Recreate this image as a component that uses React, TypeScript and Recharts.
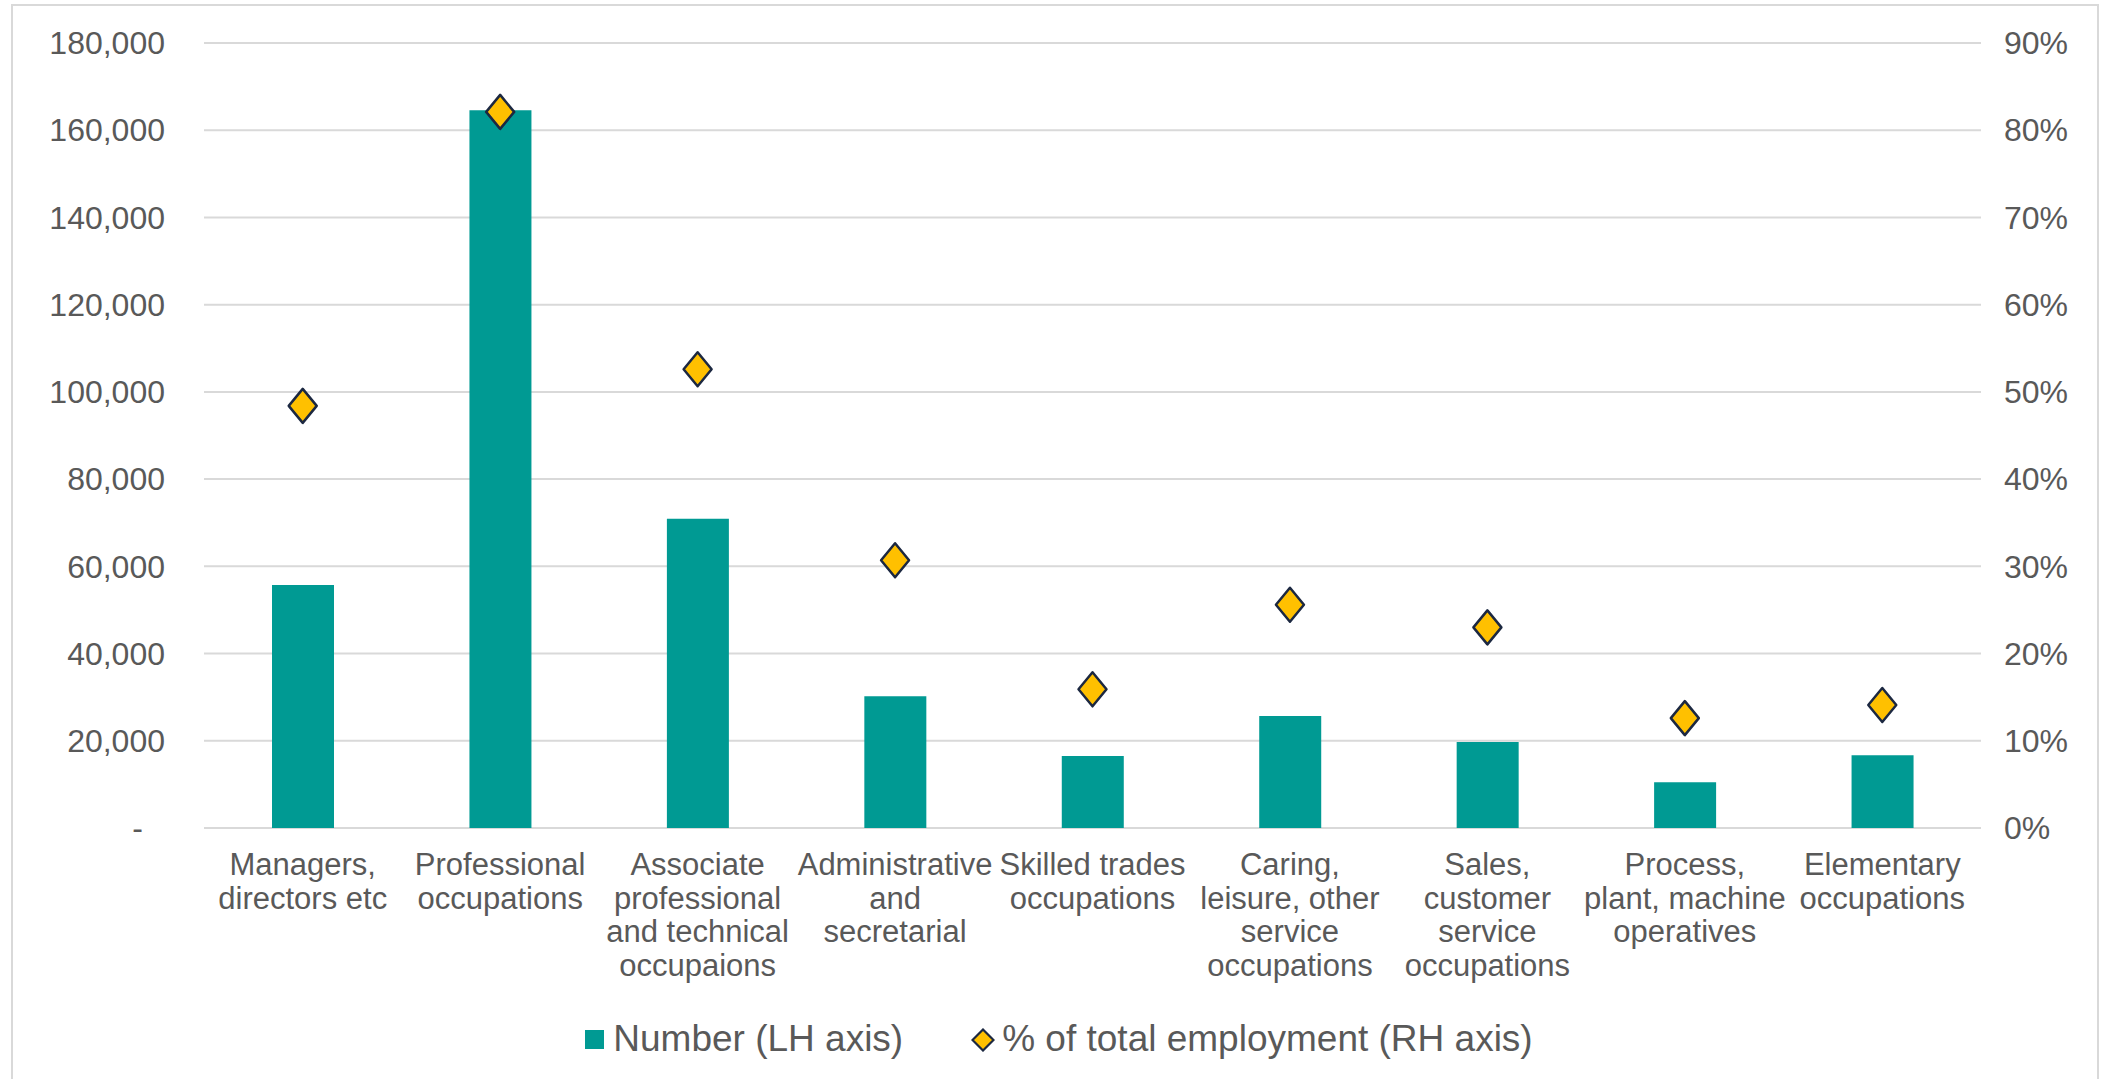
import { Bar, CartesianGrid, ComposedChart, Legend, Scatter, XAxis, YAxis } from 'recharts';

const BAR_COLOR = '#009A93';
const DIAMOND_FILL = '#FFC000';
const DIAMOND_STROKE = '#1C2841';
const GRID_COLOR = '#D9D9D9';
const TEXT_COLOR = '#595959';
const FONT = '"Liberation Sans", Arial, sans-serif';

const categories = [
  'Managers,\ndirectors etc',
  'Professional\noccupations',
  'Associate\nprofessional\nand technical\noccupaions',
  'Administrative\nand\nsecretarial',
  'Skilled trades\noccupations',
  'Caring,\nleisure, other\nservice\noccupations',
  'Sales,\ncustomer\nservice\noccupations',
  'Process,\nplant, machine\noperatives',
  'Elementary\noccupations',
];
const numbers = [55700, 164600, 70900, 30200, 16500, 25700, 19700, 10500, 16700];
const shares = [48.4, 82.1, 52.6, 30.7, 15.9, 25.6, 23.0, 12.6, 14.1];
const leftTicks = [0, 20000, 40000, 60000, 80000, 100000, 120000, 140000, 160000, 180000];
const rightTicks = [0, 10, 20, 30, 40, 50, 60, 70, 80, 90];

const data = categories.map((name, i) => ({ name, number: numbers[i], share: shares[i] }));

function CategoryTick({ x, y, payload }: any) {
  const lines = String(payload.value).split('\n');
  return (
    <text x={x} y={y} textAnchor="middle" fill={TEXT_COLOR} fontSize={31} fontFamily={FONT}>
      {lines.map((line, i) => (
        <tspan key={i} x={x} dy={i === 0 ? 47 : 33.5}>
          {line}
        </tspan>
      ))}
    </text>
  );
}

function LeftTick({ x, y, payload }: any) {
  const v = Number(payload.value);
  return (
    <text x={v === 0 ? x - 22 : x} y={y} dy="0.35em" textAnchor="end" fill={TEXT_COLOR} fontSize={32} fontFamily={FONT}>
      {v === 0 ? '-' : v.toLocaleString('en-US')}
    </text>
  );
}

function RightTick({ x, y, payload }: any) {
  return (
    <text x={x} y={y} dy="0.35em" textAnchor="start" fill={TEXT_COLOR} fontSize={32} fontFamily={FONT}>
      {`${payload.value}%`}
    </text>
  );
}

function Diamond({ cx, cy }: any) {
  return (
    <path
      d={`M${cx},${cy - 17} L${cx + 14},${cy} L${cx},${cy + 17} L${cx - 14},${cy} Z`}
      fill={DIAMOND_FILL}
      stroke={DIAMOND_STROKE}
      strokeWidth={2.5}
      strokeLinejoin="round"
    />
  );
}

function LegendContent() {
  return (
    <div
      style={{
        display: 'flex',
        justifyContent: 'center',
        alignItems: 'center',
        height: 40,
        paddingLeft: 12,
        fontFamily: FONT,
        fontSize: 37,
        color: TEXT_COLOR,
        whiteSpace: 'nowrap',
      }}
    >
      <span style={{ display: 'inline-block', width: 19, height: 19, background: BAR_COLOR }} />
      <span style={{ marginLeft: 9 }}>Number (LH axis)</span>
      <svg width={24} height={24} style={{ marginLeft: 68, position: 'relative', top: 1 }}>
        <path d="M12,1.5 L22.5,12 L12,22.5 L1.5,12 Z" fill={DIAMOND_FILL} stroke={DIAMOND_STROKE} strokeWidth={2.2} />
      </svg>
      <span style={{ marginLeft: 7 }}>% of total employment (RH axis)</span>
    </div>
  );
}

export default function App() {
  return (
    <div style={{ position: 'absolute', left: 0, top: 0, width: 2106, height: 1079, background: '#fff', overflow: 'hidden' }}>
      <div
        style={{
          position: 'absolute',
          left: 11,
          top: 4,
          width: 2084,
          height: 1090,
          border: `2px solid ${GRID_COLOR}`,
        }}
      />
      <div style={{ position: 'absolute', left: 0, top: 0 }}>
        <ComposedChart width={2106} height={1079} data={data} margin={{ top: 43, right: 0, bottom: 20, left: 0 }}>
          <CartesianGrid yAxisId="left" vertical={false} stroke={GRID_COLOR} strokeWidth={2} />
          <XAxis
            dataKey="name"
            interval={0}
            axisLine={false}
            tickLine={false}
            tickSize={0}
            tickMargin={0}
            height={191}
            tick={<CategoryTick />}
          />
          <YAxis
            yAxisId="left"
            domain={[0, 180000]}
            ticks={leftTicks}
            width={204}
            axisLine={false}
            tickLine={false}
            tickSize={0}
            tickMargin={39}
            tick={<LeftTick />}
          />
          <YAxis
            yAxisId="right"
            orientation="right"
            domain={[0, 90]}
            ticks={rightTicks}
            width={125}
            axisLine={false}
            tickLine={false}
            tickSize={0}
            tickMargin={23}
            tick={<RightTick />}
          />
          <Legend verticalAlign="bottom" content={<LegendContent />} />
          <Bar yAxisId="left" dataKey="number" name="Number (LH axis)" fill={BAR_COLOR} barSize={62} isAnimationActive={false} />
          <Scatter
            yAxisId="right"
            dataKey="share"
            name="% of total employment (RH axis)"
            shape={<Diamond />}
            isAnimationActive={false}
          />
        </ComposedChart>
      </div>
    </div>
  );
}
